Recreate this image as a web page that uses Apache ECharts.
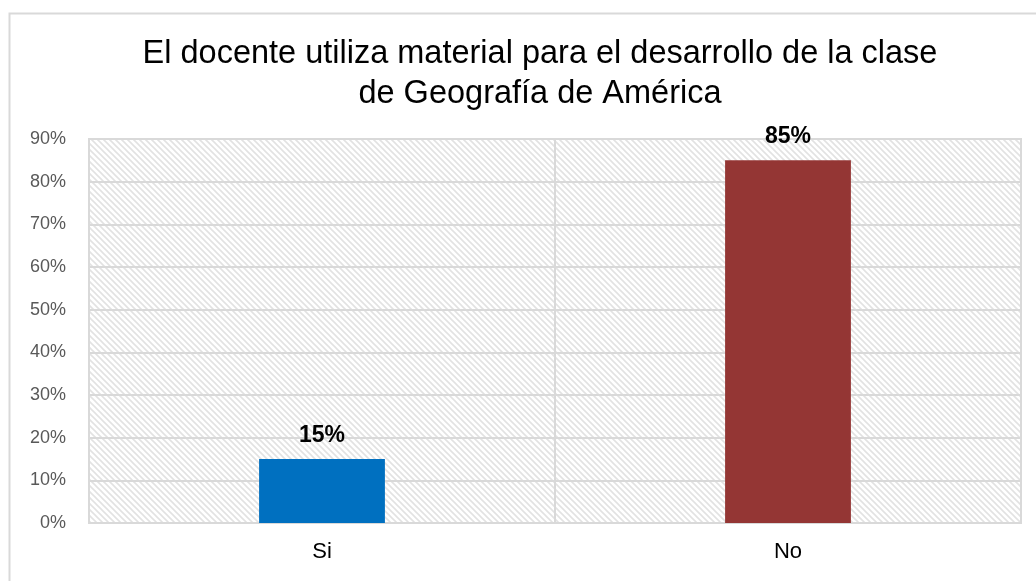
<!DOCTYPE html>
<html>
<head>
<meta charset="utf-8">
<script src="https://cdn.jsdelivr.net/npm/echarts@6/dist/echarts.min.js"></script>
<style>
  html, body { margin: 0; padding: 0; background: #fff; }
  #main { width: 1036px; height: 581px; }
</style>
</head>
<body>
<div id="main"></div>
<script>
// datos del gráfico
var categorias = ['Si', 'No'];
var valores = [15, 85];
var colores = ['#0070c0', '#943634'];
var titulo = 'El docente utiliza material para el desarrollo de la clase\nde Geografía de América';

// patrón de rayas diagonales para el fondo del área de trazado
function crearPatron () {
  var c = document.createElement('canvas');
  c.width = 6;
  c.height = 6;
  var ctx = c.getContext('2d');
  ctx.fillStyle = '#ffffff';
  ctx.fillRect(0, 0, 6, 6);
  ctx.strokeStyle = '#e2e2e2';
  ctx.lineWidth = 1.6;
  ctx.beginPath();
  ctx.moveTo(-3, 3); ctx.lineTo(3, 9);
  ctx.moveTo(0, 0); ctx.lineTo(6, 6);
  ctx.moveTo(3, -3); ctx.lineTo(9, 3);
  ctx.stroke();
  return c;
}

var myChart = echarts.init(document.getElementById('main'));

var option = {
  animation: false,
  textStyle: { fontFamily: 'Liberation Sans, Arial, sans-serif' },
  title: {
    text: titulo,
    left: 540,
    top: 34,
    padding: 0,
    textAlign: 'center',
    textStyle: {
      fontSize: 32.5,
      fontWeight: 'normal',
      color: '#000',
      lineHeight: 40
    }
  },
  graphic: [{
    type: 'rect',
    left: 7,
    top: 11,
    shape: { width: 1100, height: 700 },
    style: { fill: 'none', stroke: '#d9d9d9', lineWidth: 2 },
    silent: true
  }],
  grid: {
    left: 89,
    right: 15,
    top: 139,
    bottom: 58,
    show: true,
    borderColor: '#d9d9d9',
    borderWidth: 2,
    backgroundColor: { image: crearPatron(), repeat: 'repeat' }
  },
  xAxis: {
    type: 'category',
    data: categorias,
    axisLine: { lineStyle: { color: '#d9d9d9', width: 2 } },
    axisTick: { show: false },
    axisLabel: { color: '#000', fontSize: 22, margin: 18 },
    splitLine: { show: true, lineStyle: { color: '#d9d9d9', width: 2 } }
  },
  yAxis: {
    type: 'value',
    min: 0,
    max: 90,
    interval: 10,
    axisLine: { show: false },
    axisTick: { show: false },
    axisLabel: {
      color: '#595959',
      fontSize: 18,
      margin: 23,
      formatter: '{value}%'
    },
    splitLine: { lineStyle: { color: '#d9d9d9', width: 2 } }
  },
  series: [{
    type: 'bar',
    data: valores.map(function (v, i) {
      return { value: v, itemStyle: { color: colores[i] } };
    }),
    barWidth: '27%',
    label: {
      show: true,
      position: 'top',
      distance: 12,
      formatter: '{c}%',
      color: '#000',
      fontSize: 23,
      fontWeight: 'bold'
    }
  }]
};

myChart.setOption(option);
</script>
</body>
</html>
